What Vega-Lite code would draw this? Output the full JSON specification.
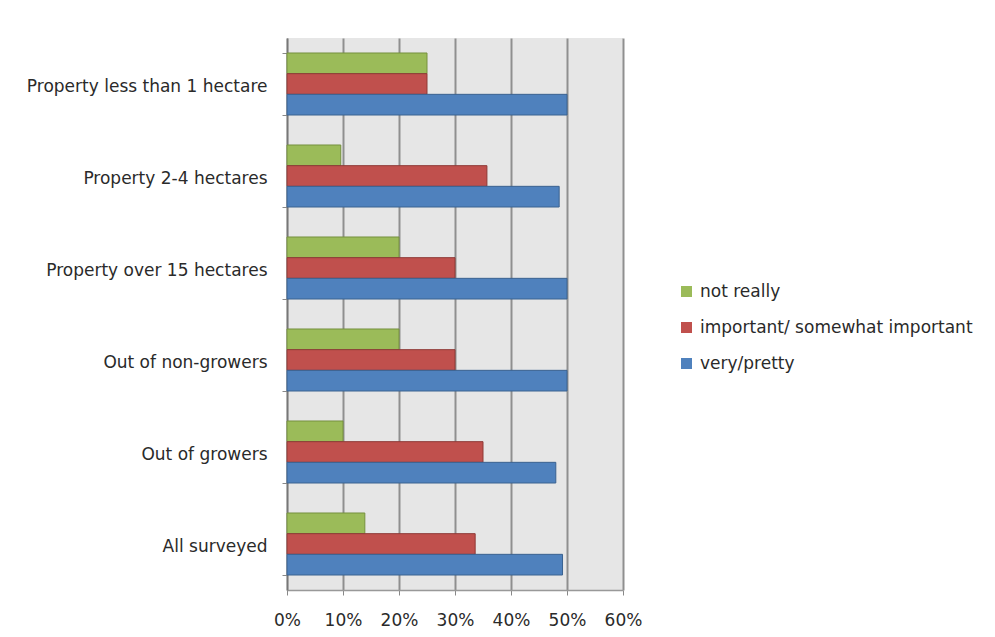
{
  "$schema": "https://vega.github.io/schema/vega-lite/v6.json",
  "autosize": "none",
  "width": 336,
  "height": 552,
  "padding": {"left": 287, "top": 38, "right": 372, "bottom": 47},
  "background": "white",
  "config": {
    "font": "DejaVu Sans",
    "view": {"stroke": null, "fill": "#e6e6e6"}
  },
  "data": {
    "values": [
      {"group": "Property less than 1 hectare", "answer": "not really", "share": 0.25},
      {"group": "Property less than 1 hectare", "answer": "important/ somewhat important", "share": 0.25},
      {"group": "Property less than 1 hectare", "answer": "very/pretty", "share": 0.50},
      {"group": "Property 2-4 hectares", "answer": "not really", "share": 0.096},
      {"group": "Property 2-4 hectares", "answer": "important/ somewhat important", "share": 0.357},
      {"group": "Property 2-4 hectares", "answer": "very/pretty", "share": 0.486},
      {"group": "Property over 15 hectares", "answer": "not really", "share": 0.20},
      {"group": "Property over 15 hectares", "answer": "important/ somewhat important", "share": 0.30},
      {"group": "Property over 15 hectares", "answer": "very/pretty", "share": 0.50},
      {"group": "Out of non-growers", "answer": "not really", "share": 0.20},
      {"group": "Out of non-growers", "answer": "important/ somewhat important", "share": 0.30},
      {"group": "Out of non-growers", "answer": "very/pretty", "share": 0.50},
      {"group": "Out of growers", "answer": "not really", "share": 0.10},
      {"group": "Out of growers", "answer": "important/ somewhat important", "share": 0.35},
      {"group": "Out of growers", "answer": "very/pretty", "share": 0.48},
      {"group": "All surveyed", "answer": "not really", "share": 0.139},
      {"group": "All surveyed", "answer": "important/ somewhat important", "share": 0.336},
      {"group": "All surveyed", "answer": "very/pretty", "share": 0.492}
    ]
  },
  "mark": {"type": "bar", "strokeWidth": 1},
  "encoding": {
    "y": {
      "field": "group",
      "type": "nominal",
      "sort": null,
      "scale": {"paddingInner": 0.326, "paddingOuter": 0.163},
      "axis": {
        "title": null,
        "tickBand": "extent",
        "tickSize": 5,
        "tickColor": "#888888",
        "domainColor": "#777777",
        "domainWidth": 1.5,
        "labelPadding": 15,
        "labelOffset": 2,
        "labelFontSize": 17,
        "labelColor": "#2a2a2a",
        "labelLimit": 300,
        "grid": false
      }
    },
    "x": {
      "field": "share",
      "type": "quantitative",
      "scale": {"domain": [0, 0.6], "nice": false},
      "axis": {
        "title": null,
        "format": ".0%",
        "values": [0, 0.1, 0.2, 0.3, 0.4, 0.5, 0.6],
        "labelFlush": false,
        "labelOverlap": false,
        "tickSize": 5,
        "tickColor": "#888888",
        "domainColor": "#999999",
        "domainWidth": 1.5,
        "gridColor": "#8f8f8f",
        "gridWidth": 2,
        "labelPadding": 17,
        "labelFontSize": 17,
        "labelColor": "#2a2a2a"
      }
    },
    "yOffset": {
      "field": "answer",
      "type": "nominal",
      "sort": ["not really", "important/ somewhat important", "very/pretty"],
      "scale": {"paddingInner": 0, "paddingOuter": 0}
    },
    "color": {
      "field": "answer",
      "type": "nominal",
      "sort": ["not really", "important/ somewhat important", "very/pretty"],
      "scale": {
        "domain": ["not really", "important/ somewhat important", "very/pretty"],
        "range": ["#9bbb59", "#c0504d", "#4f81bd"]
      },
      "legend": {
        "title": null,
        "orient": "none",
        "legendX": 391,
        "legendY": 245,
        "symbolType": "square",
        "symbolSize": 121,
        "symbolStrokeWidth": 0,
        "labelFontSize": 17,
        "labelColor": "#2a2a2a",
        "labelOffset": 5,
        "rowPadding": 18,
        "labelLimit": 400
      }
    },
    "stroke": {
      "field": "answer",
      "type": "nominal",
      "scale": {
        "domain": ["not really", "important/ somewhat important", "very/pretty"],
        "range": ["#76913f", "#8f3a37", "#3a6290"]
      },
      "legend": null
    }
  }
}
